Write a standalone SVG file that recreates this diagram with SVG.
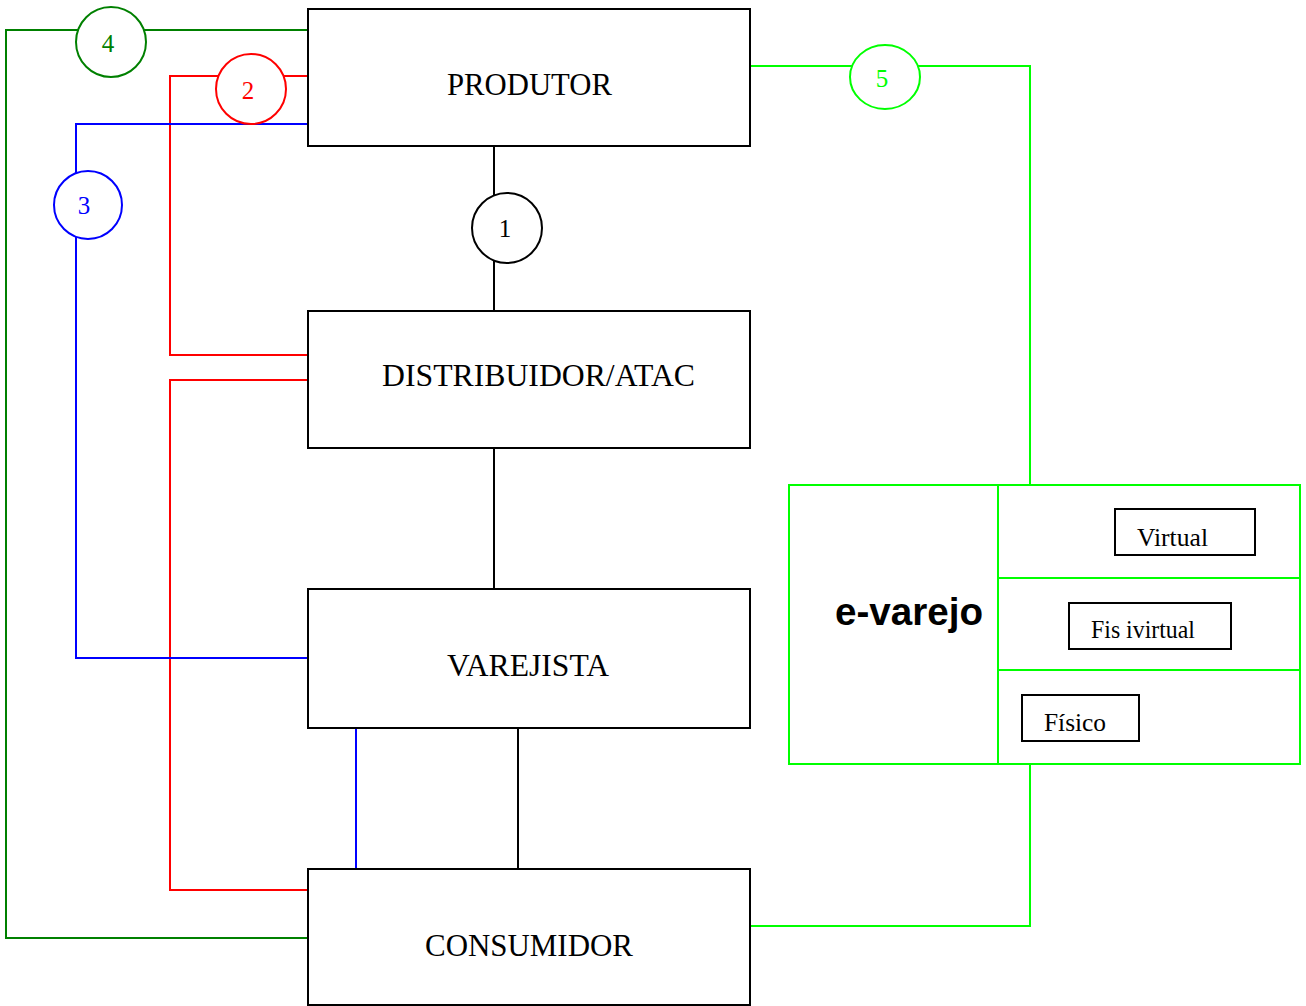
<svg xmlns="http://www.w3.org/2000/svg" width="1306" height="1006" viewBox="0 0 1306 1006">
<style>
.box{fill:#fff;stroke:#000;stroke-width:2}
.lbl{font-family:"Liberation Serif","Times New Roman",serif;font-size:31px;fill:#000}
.sm{font-family:"Liberation Serif","Times New Roman",serif;font-size:26px;fill:#000}
.num{font-family:"Liberation Serif","Times New Roman",serif;font-size:25px;text-anchor:middle}
.ln{fill:none;stroke-width:2}
.k{stroke:#000}.r{stroke:#ff0000}.b{stroke:#0000ff}.g{stroke:#008000}.l{stroke:#00ff00}
.ev{fill:none;stroke:#00ff00;stroke-width:2}
</style>
<rect width="1306" height="1006" fill="#fff"/>
<g id="connectors">
<polyline class="ln g" points="308,30 6,30 6,938 308,938"/>
<polyline class="ln r" points="308,76 170,76 170,355 308,355"/>
<polyline class="ln r" points="308,380 170,380 170,890 308,890"/>
<polyline class="ln b" points="308,124 76,124 76,658 308,658"/>
<line class="ln b" x1="356" y1="728" x2="356" y2="869"/>
<line class="ln k" x1="494" y1="146" x2="494" y2="311"/>
<line class="ln k" x1="494" y1="448" x2="494" y2="589"/>
<line class="ln k" x1="518" y1="728" x2="518" y2="869"/>
<polyline class="ln l" points="750,66 1030,66 1030,485"/>
<polyline class="ln l" points="1030,764 1030,926 750,926"/>
</g>
<g id="c4"><circle cx="111" cy="42" r="35" fill="#fff" stroke="#008000" stroke-width="2"/><text class="num" x="108" y="52" fill="#008000">4</text></g>
<g id="c2"><circle cx="251" cy="89" r="35" fill="#fff" stroke="#ff0000" stroke-width="2"/><text class="num" x="248" y="99" fill="#ff0000">2</text></g>
<g id="c3"><circle cx="88" cy="205" r="34" fill="#fff" stroke="#0000ff" stroke-width="2"/><text class="num" x="84" y="214" fill="#0000ff">3</text></g>
<g id="c1"><circle cx="507" cy="228" r="35" fill="#fff" stroke="#000" stroke-width="2"/><text class="num" x="505" y="237" fill="#000">1</text></g>
<g id="c5"><ellipse cx="885" cy="77" rx="35" ry="32" fill="#fff" stroke="#00ff00" stroke-width="2"/><text class="num" x="882" y="87" fill="#00ff00">5</text></g>
<g id="produtor"><rect class="box" x="308" y="9" width="442" height="137"/><text class="lbl" x="447" y="95" textLength="165" lengthAdjust="spacingAndGlyphs">PRODUTOR</text></g>
<g id="distribuidor"><rect class="box" x="308" y="311" width="442" height="137"/><text class="lbl" x="382" y="386" textLength="313" lengthAdjust="spacingAndGlyphs">DISTRIBUIDOR/ATAC</text></g>
<g id="varejista"><rect class="box" x="308" y="589" width="442" height="139"/><text class="lbl" x="447" y="676" textLength="162" lengthAdjust="spacingAndGlyphs">VAREJISTA</text></g>
<g id="consumidor"><rect class="box" x="308" y="869" width="442" height="136"/><text class="lbl" x="425" y="956" textLength="208" lengthAdjust="spacingAndGlyphs">CONSUMIDOR</text></g>
<g id="evarejo">
<rect class="ev" x="789" y="485" width="511" height="279"/>
<line class="ev" x1="998" y1="485" x2="998" y2="764"/>
<line class="ev" x1="998" y1="578" x2="1300" y2="578"/>
<line class="ev" x1="998" y1="670" x2="1300" y2="670"/>
<text x="835" y="625" font-family="Liberation Sans,Arial,sans-serif" font-weight="bold" font-size="38" textLength="148" lengthAdjust="spacingAndGlyphs">e-varejo</text>
</g>
<g id="virtual"><rect x="1115" y="509" width="140" height="46" fill="#fff" stroke="#000" stroke-width="2"/><text class="sm" x="1137" y="546" textLength="71" lengthAdjust="spacingAndGlyphs">Virtual</text></g>
<g id="fisivirtual"><rect x="1069" y="603" width="162" height="46" fill="#fff" stroke="#000" stroke-width="2"/><text class="sm" x="1091" y="638" textLength="104" lengthAdjust="spacingAndGlyphs">Fis ivirtual</text></g>
<g id="fisico"><rect x="1022" y="695" width="117" height="46" fill="#fff" stroke="#000" stroke-width="2"/><text class="sm" x="1044" y="731" textLength="62" lengthAdjust="spacingAndGlyphs">Físico</text></g>
</svg>
